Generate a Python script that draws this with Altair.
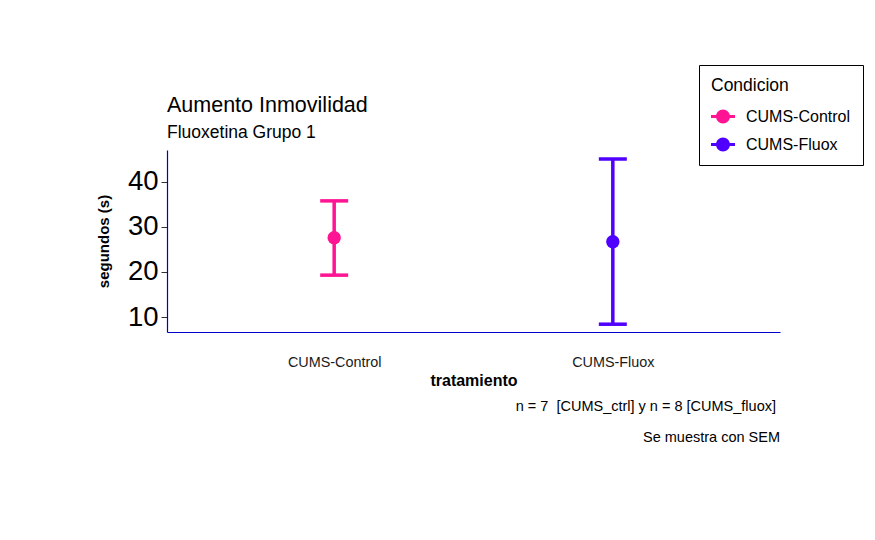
import altair as alt
import pandas as pd

categorias = ["CUMS-Control", "CUMS-Fluox"]
medias = [27.6, 26.7]
superior = [35.8, 45.1]
inferior = [19.3, 8.4]
colores = ["#FF1493", "#5000FF"]

df = pd.DataFrame({"tratamiento": categorias, "media": medias,
                   "sup": superior, "inf": inferior, "Condicion": categorias})

FONT = "Liberation Sans"
W, H = 613, 182

xs = alt.X("tratamiento:N", scale=alt.Scale(type="point", padding=0.6, domain=categorias),
           axis=alt.Axis(title="tratamiento", labelAngle=0, ticks=False, labelFontSize=14.4,
                         labelColor="#1a1a1a", labelPadding=23, titleFontSize=16,
                         titleFontWeight="bold", titleColor="black", titlePadding=4,
                         domainColor="#0000CD", domainWidth=1.2))
ysc = alt.Scale(domain=[6.67, 47.1], nice=False, zero=False)
col = alt.Color("Condicion:N", scale=alt.Scale(domain=categorias, range=colores),
                legend=alt.Legend(title="Condicion", orient="none", legendX=532, legendY=-85,
                                  symbolType="M-1,-0.13H1V0.13H-1Z M0.58,0 A0.58,0.58 0 1,1 -0.58,0 A0.58,0.58 0 1,1 0.58,0 Z",
                                  symbolSize=576, symbolStrokeWidth=0, symbolOpacity=1,
                                  labelFontSize=16, titleFontSize=17.5, titleFontWeight="normal",
                                  labelColor="black", titleColor="black",
                                  rowPadding=8, labelOffset=11, padding=12,
                                  strokeColor="black", fillColor="white",
                                  titlePadding=10))

base = alt.Chart(df)

rule = base.mark_rule(strokeWidth=3.5, opacity=1).encode(
    x=xs,
    y=alt.Y("inf:Q", scale=ysc,
            axis=alt.Axis(title="segundos (s)", values=[10, 20, 30, 40], grid=False,
                          labelFontSize=27.5, labelColor="black", tickColor="#333333",
                          tickSize=6, labelPadding=3, titleFontSize=15, titleFontWeight="bold",
                          titleColor="black", titlePadding=16,
                          domainColor="#0000CD", domainWidth=1.2)),
    y2="sup:Q",
    color=col,
)
cap_hi = base.mark_tick(size=28, thickness=3.5, opacity=1).encode(
    x=xs, y=alt.Y("sup:Q", scale=ysc), color=col)
cap_lo = base.mark_tick(size=28, thickness=3.5, opacity=1).encode(
    x=xs, y=alt.Y("inf:Q", scale=ysc), color=col)
pts = base.mark_point(filled=True, size=180, opacity=1).encode(
    x=xs, y=alt.Y("media:Q", scale=ysc), color=col)

nota1 = alt.Chart(pd.DataFrame({"t": ["n = 7\u00a0 [CUMS_ctrl] y n = 8 [CUMS_fluox]"]})).mark_text(
    align="right", baseline="middle", fontSize=14.5, font=FONT, color="black").encode(
    x=alt.value(W - 4), y=alt.value(H + 75), text="t:N")
nota2 = alt.Chart(pd.DataFrame({"t": ["Se muestra con SEM"]})).mark_text(
    align="right", baseline="middle", fontSize=14.5, font=FONT, color="black").encode(
    x=alt.value(W), y=alt.value(H + 106), text="t:N")

chart = alt.layer(rule, cap_hi, cap_lo, pts, nota1, nota2).properties(
    width=W, height=H,
    title=alt.TitleParams(text="Aumento Inmovilidad", subtitle="Fluoxetina Grupo 1",
                          anchor="start", fontSize=21.5, fontWeight="normal", subtitleFontSize=17.5,
                          color="black", subtitleColor="black", font=FONT, subtitleFont=FONT,
                          offset=-77, subtitlePadding=8, frame="group"),
    autosize=alt.AutoSizeParams(type="none"),
    padding={"left": 159, "top": 142, "right": 87, "bottom": 200},
).configure(font=FONT).configure_view(stroke=None).configure_axis(
    labelFont=FONT, titleFont=FONT)

chart.save("out.html", embed_options={"renderer": "svg", "actions": False})
